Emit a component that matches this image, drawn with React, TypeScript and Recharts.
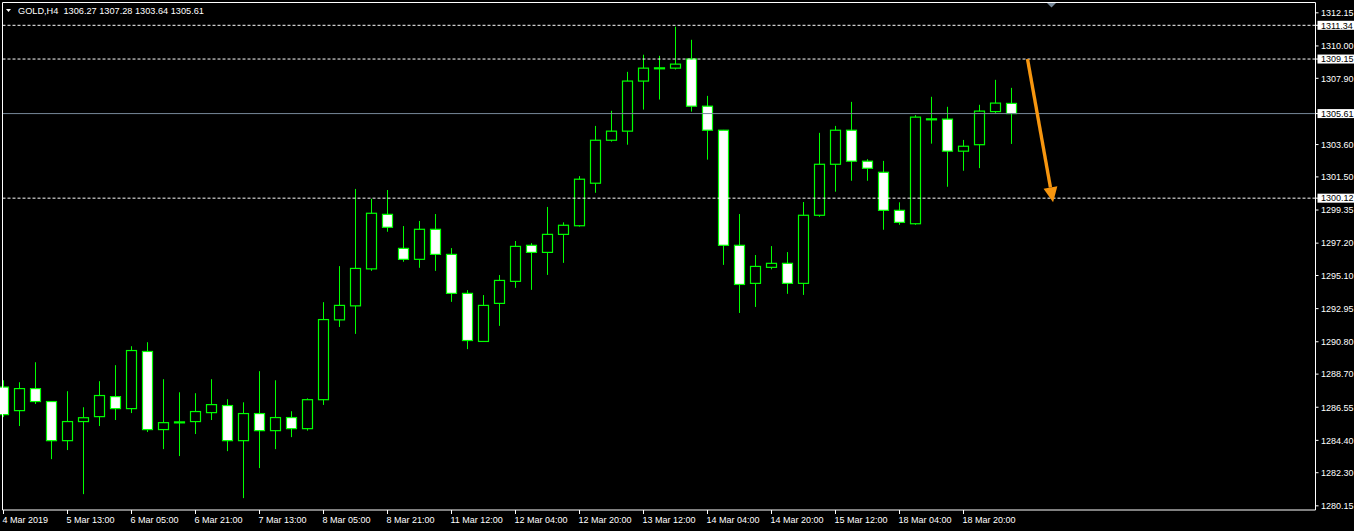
import { ComposedChart, Bar, XAxis, YAxis, ReferenceLine } from 'recharts';

// H4 candles, GOLD, 4 Mar 2019 21:00 -> 19 Mar
const OPEN = [
  1287.86, 1286.33, 1287.76, 1286.92, 1284.38, 1285.62, 1285.94, 1287.24, 1286.46, 1290.17,
  1285.10, 1285.57, 1285.62, 1286.20, 1286.66, 1284.38, 1286.14, 1285.03, 1285.88, 1285.16,
  1287.04, 1292.22, 1293.13, 1295.53, 1299.07, 1296.86, 1296.15, 1298.10, 1296.47, 1293.94,
  1290.82, 1293.29, 1294.72, 1297.06, 1296.60, 1297.77, 1298.33, 1301.09, 1303.88, 1304.47,
  1307.72, 1308.56, 1308.56, 1309.15, 1306.09, 1304.53, 1297.06, 1294.59, 1295.63, 1295.89,
  1294.59, 1299.01, 1302.32, 1304.53, 1302.52, 1301.80, 1299.33, 1298.46, 1305.25, 1305.25,
  1303.17, 1303.59, 1305.74, 1306.27,
];
const HIGH = [
  1288.30, 1288.17, 1289.47, 1286.95, 1287.59, 1286.55, 1288.24, 1289.28, 1290.51, 1290.77,
  1288.37, 1287.52, 1287.46, 1288.37, 1287.07, 1286.87, 1288.89, 1288.30, 1286.29, 1287.13,
  1293.37, 1295.71, 1300.72, 1300.08, 1300.65, 1298.31, 1298.64, 1299.09, 1296.88, 1294.15,
  1293.83, 1295.13, 1297.34, 1297.20, 1299.55, 1298.55, 1301.55, 1304.81, 1305.79, 1308.32,
  1309.43, 1309.36, 1311.25, 1310.40, 1306.76, 1304.55, 1299.09, 1296.43, 1297.01, 1296.62,
  1299.87, 1304.36, 1304.81, 1306.37, 1302.65, 1302.54, 1299.85, 1305.51, 1306.70, 1306.05,
  1303.90, 1306.18, 1307.80, 1307.28,
];
const LOW = [
  1285.91, 1285.33, 1286.76, 1283.18, 1283.77, 1280.91, 1285.33, 1285.72, 1286.17, 1284.94,
  1283.83, 1283.38, 1284.81, 1285.72, 1283.70, 1280.65, 1282.60, 1283.83, 1284.61, 1285.03,
  1286.70, 1291.76, 1291.31, 1295.40, 1297.94, 1295.99, 1295.60, 1295.40, 1293.39, 1290.32,
  1290.80, 1291.83, 1294.30, 1294.17, 1295.14, 1295.92, 1298.27, 1300.47, 1303.79, 1303.59,
  1305.87, 1306.52, 1308.47, 1305.74, 1302.62, 1295.79, 1292.67, 1293.06, 1295.50, 1293.91,
  1293.84, 1298.91, 1300.54, 1301.25, 1301.25, 1298.07, 1298.39, 1298.39, 1303.66, 1300.86,
  1301.90, 1302.07, 1305.64, 1303.64,
];
const CLOSE = [
  1286.07, 1287.76, 1286.92, 1284.38, 1285.62, 1285.87, 1287.31, 1286.46, 1290.23, 1285.10,
  1285.55, 1285.60, 1286.27, 1286.72, 1284.38, 1286.14, 1285.03, 1285.88, 1285.16, 1287.04,
  1292.24, 1293.16, 1295.56, 1299.14, 1298.23, 1296.15, 1298.10, 1296.47, 1293.94, 1290.88,
  1293.16, 1294.78, 1296.99, 1296.60, 1297.77, 1298.36, 1301.35, 1303.88, 1304.47, 1307.72,
  1308.56, 1308.58, 1308.82, 1306.09, 1304.53, 1297.06, 1294.52, 1295.69, 1295.89, 1294.59,
  1299.01, 1302.32, 1304.53, 1302.52, 1302.06, 1299.33, 1298.55, 1305.38, 1305.27, 1303.17,
  1303.49, 1305.77, 1306.29, 1305.61,
];

// one label every 4 bars
const X_LABELS = [
  '4 Mar 2019', '5 Mar 13:00', '6 Mar 05:00', '6 Mar 21:00', '7 Mar 13:00', '8 Mar 05:00',
  '8 Mar 21:00', '11 Mar 12:00', '12 Mar 04:00', '12 Mar 20:00', '13 Mar 12:00',
  '14 Mar 04:00', '14 Mar 20:00', '15 Mar 12:00', '18 Mar 04:00', '18 Mar 20:00',
];
const LABEL_STEP = 4;
const EMPTY_SLOTS = 18; // chart shift on the right

const PRICE_TICKS = [
  1312.15, 1310.0, 1307.9, 1303.6, 1301.5, 1299.35, 1297.2, 1295.1, 1292.95, 1290.8,
  1288.7, 1286.55, 1284.4, 1282.3, 1280.15,
];
const LEVELS = [1311.34, 1309.15, 1300.12];
const BID = 1305.61;
const Y_DOMAIN = [1279.88, 1312.82];

const ARROW_FROM = { x: 64.0, y: 1309.15 };
const ARROW_TO = { x: 65.6, y: 1299.85 };

const GREEN = '#00ff00';
const ORANGE = '#f7960f';
const FONT = '"Liberation Sans", Arial, sans-serif';

const data = Array.from({ length: OPEN.length + EMPTY_SLOTS }, (_, i) =>
  i < OPEN.length
    ? { i, o: OPEN[i], h: HIGH[i], l: LOW[i], c: CLOSE[i], range: [LOW[i], HIGH[i]] }
    : { i, range: null }
);

function Candle(props: any) {
  const { x, y, width, height, payload } = props;
  if (!payload || payload.h == null) return null;
  const { o, h, l, c } = payload;
  const ppu = h - l > 0 ? height / (h - l) : 0;
  const cx = Math.round(x + width / 2 - 0.5) + 0.5;
  const yOf = (v: number) => y + (h - v) * ppu;
  const top = yOf(Math.max(o, c));
  const bot = yOf(Math.min(o, c));
  const bull = c >= o;
  return (
    <g>
      <line x1={cx} x2={cx} y1={y} y2={y + height} stroke={GREEN} strokeWidth={1} />
      <rect
        x={cx - 5}
        y={top}
        width={10}
        height={Math.max(bot - top, 1)}
        fill={bull ? '#000' : '#fff'}
        stroke={GREEN}
        strokeWidth={1.2}
      />
    </g>
  );
}

function TimeTick({ x, y, payload }: any) {
  const i = payload.value;
  if (i % LABEL_STEP !== 0 || i / LABEL_STEP >= X_LABELS.length) return <g />;
  const tx = Math.round(x - 0.5) + 0.5;
  return (
    <g>
      <line x1={tx} x2={tx} y1={y} y2={y + 4} stroke="#fff" />
      <text x={tx - 1} y={y + 12.7} fill="#fff" fontSize={9} fontFamily={FONT}>
        {X_LABELS[i / LABEL_STEP]}
      </text>
    </g>
  );
}

function PriceTick({ x, y, payload }: any) {
  const v = payload.value as number;
  const hi = LEVELS.includes(v) || v === BID;
  return (
    <g>
      <line x1={x} x2={x + 3} y1={y} y2={y} stroke="#fff" />
      {hi && <rect x={x + 2} y={y - 4.5} width={40} height={9} fill="#fff" />}
      <text x={x + 5.5} y={y + 3.3} fill={hi ? '#000' : '#fff'} fontSize={9} fontFamily={FONT}>
        {v.toFixed(2)}
      </text>
    </g>
  );
}

function Arrow(props: any) {
  const { x1, y1, x2, y2 } = props;
  const ang = Math.atan2(y2 - y1, x2 - x1);
  const len = 15;
  const half = 7;
  const bx = x2 - Math.cos(ang) * len;
  const by = y2 - Math.sin(ang) * len;
  const nx = -Math.sin(ang) * half;
  const ny = Math.cos(ang) * half;
  return (
    <g>
      <line x1={x1} y1={y1} x2={bx} y2={by} stroke={ORANGE} strokeWidth={3.4} />
      <polygon points={`${x2},${y2} ${bx + nx},${by + ny} ${bx - nx},${by - ny}`} fill={ORANGE} />
    </g>
  );
}

export default function App() {
  const n = data.length;
  return (
    <div style={{ position: 'absolute', left: 0, top: 0, width: 1354, height: 531, background: '#000' }}>
      <ComposedChart
        width={1354}
        height={531}
        data={data}
        margin={{ top: 2.5, right: 0, bottom: 0, left: 2.5 }}
      >
        <XAxis
          dataKey="i"
          type="category"
          height={21}
          interval={0}
          padding={{ left: -7, right: 8 }}
          axisLine={{ stroke: '#fff' }}
          tickLine={false}
          tickSize={0}
          tickMargin={0}
          tick={<TimeTick />}
        />
        {/* numeric twin of the bar axis: bar i sits at its band centre */}
        <XAxis
          xAxisId="n"
          dataKey="i"
          type="number"
          domain={[0, n - 1]}
          padding={{ left: 1, right: 16 }}
          allowDataOverflow
          hide
        />
        <YAxis
          orientation="right"
          width={38.5}
          type="number"
          domain={Y_DOMAIN}
          allowDataOverflow
          ticks={[...PRICE_TICKS, ...LEVELS, BID]}
          interval={0}
          axisLine={{ stroke: '#fff' }}
          tickLine={false}
          tickSize={0}
          tickMargin={0}
          tick={<PriceTick />}
        />

        {LEVELS.map((v) => (
          <ReferenceLine key={v} y={v} stroke="#fff" strokeDasharray="3 2" />
        ))}
        <ReferenceLine y={BID} stroke="#778899" />

        <Bar dataKey="range" shape={<Candle />} isAnimationActive={false} />

        {/* frame top */}
        <ReferenceLine y={Y_DOMAIN[1]} stroke="#fff" />

        <ReferenceLine
          xAxisId="n"
          segment={[ARROW_FROM, ARROW_TO]}
          shape={<Arrow />}
        />
      </ComposedChart>

      <svg
        width={1354}
        height={531}
        style={{ position: 'absolute', left: 0, top: 0, pointerEvents: 'none' }}
      >
        <line x1={2.5} y1={2.5} x2={2.5} y2={510} stroke="#fff" />
        <polygon points="6,9 11,9 8.5,12" fill="#fff" />
        <text x={18} y={14} fill="#fff" fontSize={9.2} fontFamily={FONT} style={{ whiteSpace: 'pre' }}>
          GOLD,H4  1306.27 1307.28 1303.64 1305.61
        </text>
        <polygon points="1047,3 1056,3 1051.5,7.5" fill="#778899" />
      </svg>
    </div>
  );
}
